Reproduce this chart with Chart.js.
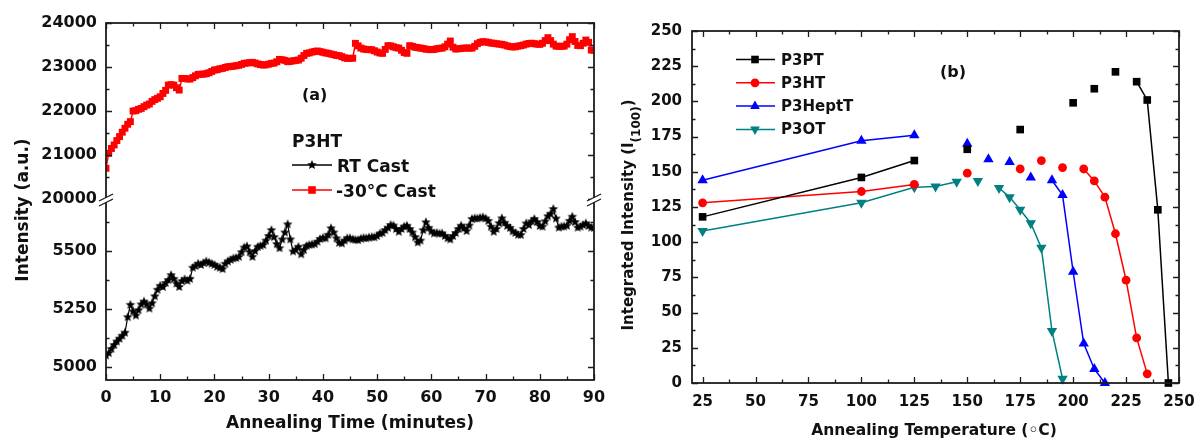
<!DOCTYPE html>
<html><head><meta charset="utf-8">
<script src="https://cdn.jsdelivr.net/npm/chart.js@4/dist/chart.umd.min.js"></script>
<style>
html,body{margin:0;padding:0;background:#fff;}
#wrap{position:relative;width:1199px;height:441px;overflow:hidden;background:#fff}
canvas{position:absolute;top:0;}
#ca{left:0;}
#cb{left:600px;}
</style></head><body>
<div id="wrap">
<canvas id="ca" width="625" height="441"></canvas>
<canvas id="cb" width="599" height="441"></canvas>
</div>
<script>
// ---------- Panel (a) data ----------
const timeMin = [0,0.5,1,1.5,2,2.5,3,3.5,4,4.5,5,5.5,6,6.5,7,7.5,8,8.5,9,9.5,
10,10.5,11,11.5,12,12.5,13,13.5,14,14.5,15,15.5,16,16.5,17,17.5,18,18.5,19,19.5,
20,20.5,21,21.5,22,22.5,23,23.5,24,24.5,25,25.5,26,26.5,27,27.5,28,28.5,29,29.5,
30,30.5,31,31.5,32,32.5,33,33.5,34,34.5,35,35.5,36,36.5,37,37.5,38,38.5,39,39.5,
40,40.5,41,41.5,42,42.5,43,43.5,44,44.5,45,45.5,46,46.5,47,47.5,48,48.5,49,49.5,
50,50.5,51,51.5,52,52.5,53,53.5,54,54.5,55,55.5,56,56.5,57,57.5,58,58.5,59,59.5,
60,60.5,61,61.5,62,62.5,63,63.5,64,64.5,65,65.5,66,66.5,67,67.5,68,68.5,69,69.5,
70,70.5,71,71.5,72,72.5,73,73.5,74,74.5,75,75.5,76,76.5,77,77.5,78,78.5,79,79.5,
80,80.5,81,81.5,82,82.5,83,83.5,84,84.5,85,85.5,86,86.5,87,87.5,88,88.5,89,89.5,90];
const rtCast = [5050,5060,5078,5095,5110,5122,5135,5148,5215,5268,
5240,5222,5245,5270,5282,5270,5252,5275,5305,5333,
5350,5345,5362,5375,5396,5380,5360,5345,5370,5378,
5372,5380,5428,5435,5445,5440,5448,5455,5450,5445,
5440,5432,5428,5422,5445,5455,5462,5468,5470,5475,
5495,5515,5520,5495,5475,5500,5518,5522,5526,5545,
5565,5590,5560,5530,5512,5550,5580,5615,5550,5498,
5505,5518,5486,5505,5522,5526,5528,5530,5540,5552,
5556,5555,5570,5598,5580,5555,5535,5533,5545,5555,
5555,5550,5548,5547,5553,5556,5555,5558,5560,5559,
5565,5575,5578,5590,5600,5612,5610,5595,5583,5595,
5605,5609,5595,5580,5560,5537,5545,5590,5624,5600,
5585,5576,5578,5575,5576,5565,5555,5550,5565,5578,
5595,5609,5598,5586,5610,5638,5641,5640,5643,5645,
5640,5630,5605,5583,5595,5620,5641,5622,5608,5600,
5585,5578,5570,5569,5595,5619,5612,5628,5638,5625,
5608,5605,5628,5650,5660,5681,5640,5601,5605,5606,
5609,5630,5648,5625,5601,5605,5612,5619,5608,5601,5600];
const coldCast = [20700,21040,21150,21230,21330,21420,21520,21610,21700,21760,
22000,22010,22040,22060,22100,22135,22160,22220,22260,22290,
22325,22400,22470,22590,22600,22590,22530,22477,22740,22740,
22730,22727,22760,22800,22833,22835,22840,22848,22870,22900,
22932,22940,22960,22970,22990,23007,23010,23020,23030,23040,
23060,23083,23090,23100,23106,23090,23070,23055,23045,23050,
23065,23083,23090,23120,23174,23165,23150,23121,23130,23140,
23150,23159,23200,23260,23311,23320,23340,23355,23364,23350,
23335,23320,23311,23295,23280,23265,23258,23235,23210,23197,
23197,23200,23538,23480,23430,23409,23400,23395,23394,23370,
23340,23320,23311,23400,23485,23480,23460,23440,23430,23380,
23330,23311,23485,23470,23450,23440,23430,23420,23405,23400,
23394,23400,23415,23425,23430,23460,23520,23591,23450,23409,
23415,23420,23430,23432,23430,23430,23470,23530,23560,23576,
23570,23560,23545,23540,23530,23520,23515,23500,23480,23465,
23455,23460,23475,23485,23500,23520,23535,23540,23530,23520,
23515,23540,23600,23667,23600,23520,23475,23470,23470,23475,
23520,23620,23690,23580,23490,23485,23540,23613,23560,23386,23380];
const xTicksA = [0,10,20,30,40,50,60,70,80,90];
const xMinorA = [5,15,25,35,45,55,65,75,85];
const yTopTicks = [20000,21000,22000,23000,24000];
const yTopMinor = [20500,21500,22500,23500];
const yBotTicks = [5000,5250,5500];
const yBotMinor = [5125,5375,5625];

// ---------- Panel (b) data (null = gap in line) ----------
const p3ptTemp = [25,100,125,null,150,null,175,null,200,null,210,null,220,null,230,235,240,245];
const p3ptVal  = [118,146,158,null,166,null,180,null,199,null,209,null,221,null,214,201,123,0];
const p3htTemp = [25,100,125,null,150,null,175,null,185,null,195,null,205,210,215,220,225,230,235];
const p3htVal  = [128,136,141,null,149,null,152,null,158,null,153,null,152,143.5,132,106,73,32,6.5];
const p3heptTemp = [25,100,125,null,150,null,160,null,170,null,180,null,190,195,200,205,210,215];
const p3heptVal  = [144,172,176,null,170,null,159,null,157,null,146,null,144,133.5,79,28,10,0];
const p3otTemp = [25,100,125,135,145,null,155,null,165,170,175,180,185,190,195];
const p3otVal  = [108,128,139,139.5,143,null,143.5,null,138.5,132,123,113.5,96,37,3];
const xTicksB = [25,50,75,100,125,150,175,200,225,250];
const xMinorB = [37.5,62.5,87.5,112.5,137.5,162.5,187.5,212.5,237.5];
const yTicksB = [0,25,50,75,100,125,150,175,200,225,250];
const yMinorB = [12.5,37.5,62.5,87.5,112.5,137.5,162.5,187.5,212.5,237.5];

// ---------- helpers ----------
const AXIS = '#1c1c1c', TXT = '#111';
const FF = '"DejaVu Sans", sans-serif';
const fnt = (s) => `bold ${s}px ${FF}`;
const TEAL = '#008080';

function makeStar(r, color) {
  const s = Math.ceil(r * 2) + 2;
  const c = document.createElement('canvas'); c.width = s; c.height = s;
  const g = c.getContext('2d'); g.fillStyle = color; g.beginPath();
  for (let k = 0; k < 10; k++) {
    const rr = k % 2 ? r * 0.45 : r; const ang = -Math.PI / 2 + k * Math.PI / 5;
    g.lineTo(s / 2 + rr * Math.cos(ang), s / 2 + rr * Math.sin(ang));
  }
  g.closePath(); g.fill(); return c;
}
const starImg = makeStar(5, '#000');

function ticksX(ctx, sc, a, vals, len) {
  ctx.beginPath();
  for (const v of vals) { const p = Math.round(sc.getPixelForValue(v)) + 0.5;
    ctx.moveTo(p, a.bottom); ctx.lineTo(p, a.bottom - len); ctx.moveTo(p, a.top); ctx.lineTo(p, a.top + len); }
  ctx.stroke();
}
function ticksY(ctx, sc, a, vals, len) {
  ctx.beginPath();
  for (const v of vals) { if (v < sc.min || v > sc.max) continue; const p = Math.round(sc.getPixelForValue(v)) + 0.5;
    ctx.moveTo(a.left, p); ctx.lineTo(a.left + len, p); ctx.moveTo(a.right, p); ctx.lineTo(a.right - len, p); }
  ctx.stroke();
}
function breakMark(ctx, x, y) {
  const dx = 7, dy = 3.5, g = 2.5;
  ctx.save(); ctx.fillStyle = '#fff'; ctx.beginPath();
  ctx.moveTo(x - dx, y + dy - g); ctx.lineTo(x + dx, y - dy - g); ctx.lineTo(x + dx, y - dy + g); ctx.lineTo(x - dx, y + dy + g);
  ctx.closePath(); ctx.fill();
  ctx.strokeStyle = AXIS; ctx.lineWidth = 1.3; ctx.beginPath();
  ctx.moveTo(x - dx, y + dy - g); ctx.lineTo(x + dx, y - dy - g);
  ctx.moveTo(x - dx, y + dy + g); ctx.lineTo(x + dx, y - dy + g); ctx.stroke();
  ctx.restore();
}
function marker(ctx, style, x, y, color) {
  ctx.save(); ctx.fillStyle = color; ctx.beginPath();
  if (style === 'rect') { ctx.rect(x - 3.8, y - 3.8, 7.6, 7.6); }
  else if (style === 'circle') { ctx.arc(x, y, 4.4, 0, Math.PI * 2); }
  else if (style === 'tri') { const r = 5.6; ctx.moveTo(x, y - r); ctx.lineTo(x + r * 0.866, y + r / 2); ctx.lineTo(x - r * 0.866, y + r / 2); ctx.closePath(); }
  else if (style === 'dtri') { const r = 5.6; ctx.moveTo(x, y + r); ctx.lineTo(x + r * 0.866, y - r / 2); ctx.lineTo(x - r * 0.866, y - r / 2); ctx.closePath(); }
  ctx.fill(); ctx.restore();
}
const tickFontA = { family: FF, size: 16, weight: 'bold' };
const tickFontB = { family: FF, size: 15, weight: 'bold' };

// ---------- Chart (a) ----------
const frameA = {
  id: 'frameA',
  afterDraw(chart) {
    const { ctx, chartArea: a, scales } = chart;
    ctx.save();
    ctx.strokeStyle = AXIS; ctx.lineWidth = 1.8;
    ctx.strokeRect(a.left, a.top, a.right - a.left, a.bottom - a.top);
    ctx.lineWidth = 1.3;
    ticksX(ctx, scales.x, a, xTicksA, 6); ticksX(ctx, scales.x, a, xMinorA, 3.5);
    ticksY(ctx, scales.yTop, a, yTopTicks, 6); ticksY(ctx, scales.yTop, a, yTopMinor, 3.5);
    ticksY(ctx, scales.yBot, a, yBotTicks, 6); ticksY(ctx, scales.yBot, a, yBotMinor, 3.5);
    const yb = scales.yTop.bottom;
    breakMark(ctx, a.left, yb); breakMark(ctx, a.right, yb);
    ctx.fillStyle = TXT; ctx.textBaseline = 'alphabetic';
    ctx.font = fnt(16); ctx.textAlign = 'left'; ctx.fillText('(a)', 302, 100);
    ctx.font = fnt(17);
    ctx.fillText('P3HT', 292, 147);
    ctx.fillText('RT Cast', 337, 172);
    ctx.fillText('-30°C Cast', 336, 197);
    ctx.lineWidth = 1.3; ctx.strokeStyle = '#000';
    ctx.beginPath(); ctx.moveTo(292, 165); ctx.lineTo(332, 165); ctx.stroke();
    ctx.drawImage(starImg, 312 - starImg.width / 2, 165 - starImg.height / 2);
    ctx.strokeStyle = '#ff0000'; ctx.lineWidth = 1.6;
    ctx.beginPath(); ctx.moveTo(292, 190); ctx.lineTo(332, 190); ctx.stroke();
    marker(ctx, 'rect', 312, 190, '#ff0000');
    // axis titles
    ctx.fillStyle = TXT; ctx.font = fnt(17); ctx.textAlign = 'center';
    ctx.fillText('Annealing Time (minutes)', (a.left + a.right) / 2, 428);
    ctx.save(); ctx.translate(28, 210); ctx.rotate(-Math.PI / 2);
    ctx.fillText('Intensity (a.u.)', 0, 0); ctx.restore();
    ctx.restore();
  }
};

new Chart(document.getElementById('ca'), {
  type: 'line',
  data: {
    datasets: [
      { label: 'RT Cast', data: timeMin.map((t, i) => ({ x: t, y: rtCast[i] })), yAxisID: 'yBot',
        borderColor: '#000', borderWidth: 1.2, pointStyle: starImg, backgroundColor: '#000', tension: 0 },
      { label: '-30°C Cast', data: timeMin.map((t, i) => ({ x: t, y: coldCast[i] })), yAxisID: 'yTop',
        borderColor: '#ff0000', borderWidth: 1.5, pointStyle: 'rect', pointRadius: 4.9,
        pointBackgroundColor: '#ff0000', pointBorderColor: '#ff0000', pointBorderWidth: 0, tension: 0 }
    ]
  },
  options: {
    responsive: false, animation: false, events: [],
    layout: { padding: { left: 0, top: 23, right: 31, bottom: 0 } },
    plugins: { legend: { display: false }, tooltip: { enabled: false } },
    scales: {
      x: { type: 'linear', min: 0, max: 90,
        afterBuildTicks: s => { s.ticks = xTicksA.map(v => ({ value: v })); },
        afterFit: s => { s.height = 61; s.paddingLeft = 0; s.paddingRight = 0; },
        ticks: { font: tickFontA, color: TXT, padding: 8, maxRotation: 0, autoSkip: false, callback: v => String(v) },
        grid: { display: false, drawTicks: false }, border: { display: false } },
      yBot: { type: 'linear', position: 'left', stack: 'a', stackWeight: 180, min: 4944, max: 5720,
        afterBuildTicks: s => { s.ticks = yBotTicks.map(v => ({ value: v })); },
        afterFit: s => { s.width = 106; s.paddingTop = 0; s.paddingBottom = 0; },
        ticks: { font: tickFontA, color: TXT, padding: 9, autoSkip: false, callback: v => String(v) },
        grid: { display: false, drawTicks: false }, border: { display: false } },
      yTop: { type: 'linear', position: 'left', stack: 'a', stackWeight: 177, min: 19980, max: 24000,
        afterBuildTicks: s => { s.ticks = yTopTicks.map(v => ({ value: v })); },
        afterFit: s => { s.width = 106; s.paddingTop = 0; s.paddingBottom = 0; },
        ticks: { font: tickFontA, color: TXT, padding: 9, autoSkip: false, callback: v => String(v) },
        grid: { display: false, drawTicks: false }, border: { display: false } }
    }
  },
  plugins: [frameA]
});

// ---------- Chart (b) ----------
const seriesB = [
  { label: 'P3PT', temps: p3ptTemp, vals: p3ptVal, color: '#000000', style: 'rect', cs: 'rect', r: 5.4, rot: 0 },
  { label: 'P3HT', temps: p3htTemp, vals: p3htVal, color: '#ff0000', style: 'circle', cs: 'circle', r: 4.4, rot: 0 },
  { label: 'P3HeptT', temps: p3heptTemp, vals: p3heptVal, color: '#0000ff', style: 'tri', cs: 'triangle', r: 6, rot: 0 },
  { label: 'P3OT', temps: p3otTemp, vals: p3otVal, color: TEAL, style: 'dtri', cs: 'triangle', r: 6, rot: 180 }
];

const frameB = {
  id: 'frameB',
  afterDraw(chart) {
    const { ctx, chartArea: a, scales } = chart;
    ctx.save();
    ctx.strokeStyle = AXIS; ctx.lineWidth = 1.8;
    ctx.strokeRect(a.left, a.top, a.right - a.left, a.bottom - a.top);
    ctx.lineWidth = 1.3;
    ticksX(ctx, scales.x, a, xTicksB, 6); ticksX(ctx, scales.x, a, xMinorB, 3.5);
    ticksY(ctx, scales.y, a, yTicksB, 6); ticksY(ctx, scales.y, a, yMinorB, 3.5);
    // legend
    seriesB.forEach((s, i) => {
      const base = 64.5 + i * 23.3, cy = base - 5;
      ctx.strokeStyle = s.color; ctx.lineWidth = 1.5;
      ctx.beginPath(); ctx.moveTo(136, cy); ctx.lineTo(175, cy); ctx.stroke();
      marker(ctx, s.style, 155, cy, s.color);
      ctx.fillStyle = TXT; ctx.font = fnt(15); ctx.textAlign = 'left'; ctx.textBaseline = 'alphabetic';
      ctx.fillText(s.label, 181, base);
    });
    ctx.fillStyle = TXT; ctx.font = fnt(16); ctx.textAlign = 'left';
    ctx.fillText('(b)', 340, 77);
    // x title
    ctx.font = fnt(15.5); ctx.textAlign = 'center';
    ctx.fillText('Annealing Temperature (\u25E6C)', 334, 435);
    // y title with subscript
    ctx.save(); ctx.translate(33, 215); ctx.rotate(-Math.PI / 2);
    const p1 = 'Integrated Intensity (I', p2 = '(100)', p3 = ')';
    ctx.font = fnt(15); const w1 = ctx.measureText(p1).width, w3 = ctx.measureText(p3).width;
    ctx.font = fnt(12); const w2 = ctx.measureText(p2).width;
    let x0 = -(w1 + w2 + w3) / 2;
    ctx.textAlign = 'left';
    ctx.font = fnt(15); ctx.fillText(p1, x0, 0);
    ctx.font = fnt(12); ctx.fillText(p2, x0 + w1, 7);
    ctx.font = fnt(15); ctx.fillText(p3, x0 + w1 + w2, 0);
    ctx.restore();
    ctx.restore();
  }
};

new Chart(document.getElementById('cb'), {
  type: 'scatter',
  data: {
    datasets: seriesB.map(s => ({
      label: s.label,
      data: s.temps.map((t, i) => ({ x: t, y: s.vals[i] })),
      showLine: true, spanGaps: false, borderColor: s.color, borderWidth: 1.5,
      pointStyle: s.cs, pointRadius: s.r, rotation: s.rot,
      pointBackgroundColor: s.color, pointBorderColor: s.color, pointBorderWidth: 0,
      backgroundColor: s.color, clip: false, tension: 0
    }))
  },
  options: {
    responsive: false, animation: false, events: [],
    layout: { padding: { left: 0, top: 31, right: 20, bottom: 0 } },
    plugins: { legend: { display: false }, tooltip: { enabled: false } },
    scales: {
      x: { type: 'linear', min: 20, max: 250,
        afterBuildTicks: s => { s.ticks = xTicksB.map(v => ({ value: v })); },
        afterFit: s => { s.height = 58; s.paddingLeft = 0; s.paddingRight = 0; },
        ticks: { font: tickFontB, color: TXT, padding: 10, maxRotation: 0, autoSkip: false, callback: v => String(v) },
        grid: { display: false, drawTicks: false }, border: { display: false } },
      y: { type: 'linear', min: 0, max: 250,
        afterBuildTicks: s => { s.ticks = yTicksB.map(v => ({ value: v })); },
        afterFit: s => { s.width = 92; s.paddingTop = 0; s.paddingBottom = 0; },
        ticks: { font: tickFontB, color: TXT, padding: 10, autoSkip: false, callback: v => String(v) },
        grid: { display: false, drawTicks: false }, border: { display: false } }
    }
  },
  plugins: [frameB]
});
</script>
</body></html>
